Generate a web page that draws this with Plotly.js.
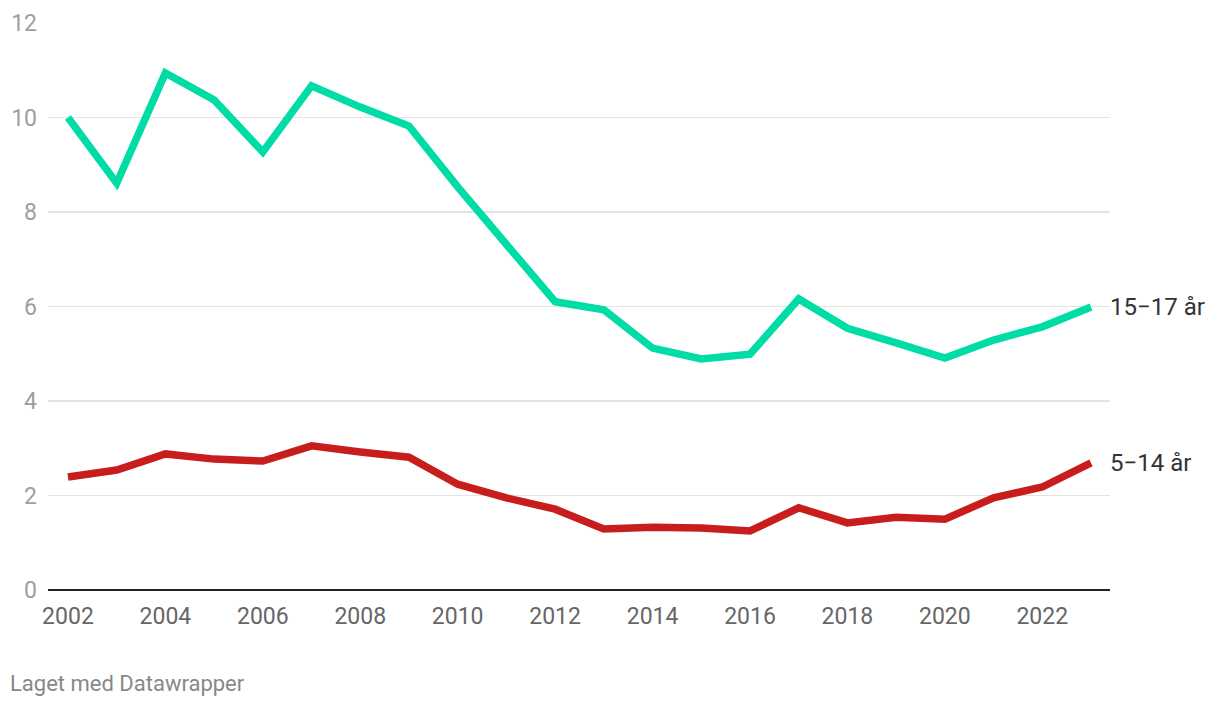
<!DOCTYPE html>
<html>
<head>
<meta charset="utf-8">
<script src="https://cdn.plot.ly/plotly-3.0.1.min.js"></script>
<style>html,body{margin:0;padding:0;background:#fff;}#chart{width:1220px;height:706px;}</style>
</head>
<body>
<div id="chart"></div>
<script>
const years = [2002,2003,2004,2005,2006,2007,2008,2009,2010,2011,2012,2013,2014,2015,2016,2017,2018,2019,2020,2021,2022,2023];
const age15to17 = [10.0,8.61,10.94,10.37,9.27,10.67,10.22,9.82,8.53,7.30,6.10,5.93,5.12,4.89,4.99,6.16,5.54,5.23,4.91,5.29,5.57,5.99];
const age5to14 = [2.39,2.54,2.88,2.77,2.73,3.05,2.92,2.81,2.24,1.95,1.71,1.29,1.33,1.31,1.25,1.74,1.42,1.54,1.50,1.95,2.18,2.69];
const seriesNames = ["15−17 år","5−14 år"];
const xTicks = [2002,2004,2006,2008,2010,2012,2014,2016,2018,2020,2022];
const yTicks = [0,2,4,6,8,10,12];

const font = "Roboto, 'Noto Sans', sans-serif";
const traces = [
  {x: years, y: age15to17, name: seriesNames[0], type: "scatter", mode: "lines",
   line: {color: "#00dca6", width: 7.5, shape: "linear"}, hoverinfo: "x+y"},
  {x: years, y: age5to14, name: seriesNames[1], type: "scatter", mode: "lines",
   line: {color: "#c71e1d", width: 7.5, shape: "linear"}, hoverinfo: "x+y"}
];
const last = years.length - 1;
const layout = {
  width: 1220, height: 706,
  margin: {l: 48, r: 110, t: 23, b: 116},
  paper_bgcolor: "#fff", plot_bgcolor: "#fff",
  showlegend: false,
  font: {family: font},
  xaxis: {
    range: [2001.59, 2023.39], tickvals: xTicks, ticktext: xTicks.map(String),
    showgrid: false, zeroline: false, showline: false, ticks: "",
    tickfont: {size: 23, color: "#666", family: font}, ticklabelstandoff: 10
  },
  yaxis: {
    range: [0, 12], tickvals: yTicks, ticktext: yTicks.map(String),
    showgrid: true, gridcolor: "#e3e3e3", gridwidth: 1.5,
    zeroline: true, zerolinecolor: "#222", zerolinewidth: 2,
    showline: false, ticks: "",
    tickfont: {size: 23, color: "#9e9e9e", family: font}, ticklabelstandoff: 10
  },
  annotations: [
    {x: years[last], y: age15to17[last], xref: "x", yref: "y", text: seriesNames[0],
     showarrow: false, xanchor: "left", yanchor: "middle", xshift: 17,
     font: {size: 24, color: "#333", family: font}},
    {x: years[last], y: age5to14[last], xref: "x", yref: "y", text: seriesNames[1],
     showarrow: false, xanchor: "left", yanchor: "middle", xshift: 17,
     font: {size: 24, color: "#333", family: font}},
    {x: 0, y: 0, xref: "paper", yref: "paper", xanchor: "left", yanchor: "middle",
     xshift: -40, yshift: -93, text: "Laget med Datawrapper", showarrow: false,
     font: {size: 22, color: "#888", family: font}}
  ]
};
Plotly.newPlot("chart", traces, layout, {displayModeBar: false, staticPlot: true});
</script>
</body>
</html>
